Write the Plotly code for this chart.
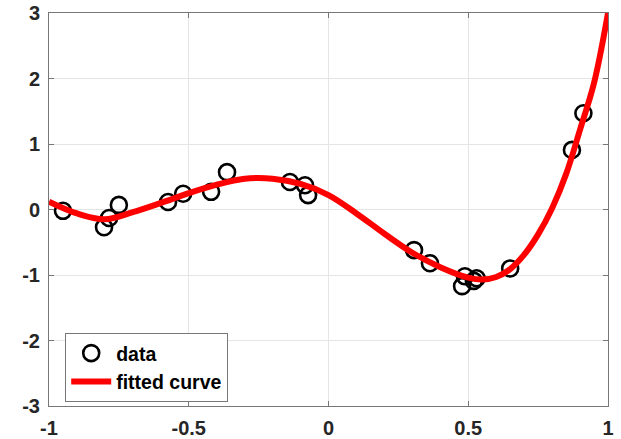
import plotly.graph_objects as go

# data points
data_x = [-0.95, -0.803, -0.785, -0.75, -0.574, -0.52, -0.42, -0.363, -0.138, -0.084, -0.073,
          0.306, 0.363, 0.478, 0.488, 0.52, 0.53, 0.65, 0.871, 0.912]
data_y = [-0.02, -0.27, -0.13, 0.07, 0.115, 0.24, 0.27, 0.57, 0.42, 0.37, 0.22,
          -0.62, -0.82, -1.17, -1.02, -1.09, -1.05, -0.90, 0.91, 1.47]

# fitted curve
curve_x = [-1.0, -0.9, -0.8, -0.7, -0.6, -0.5, -0.4, -0.3, -0.2, -0.1, 0.0, 0.1, 0.2, 0.3,
           0.4, 0.5, 0.55, 0.6, 0.65, 0.7, 0.75, 0.8, 0.85, 0.9, 0.95, 1.0]
curve_y = [0.12, -0.06, -0.15, -0.04, 0.10, 0.25, 0.38, 0.47, 0.47, 0.39, 0.22, -0.06, -0.37, -0.66,
           -0.88, -1.04, -1.07, -1.03, -0.91, -0.69, -0.38, 0.02, 0.54, 1.22, 1.93, 3.0]

x_ticks = [-1, -0.5, 0, 0.5, 1]
x_labels = ["-1", "-0.5", "0", "0.5", "1"]
y_ticks = [-3, -2, -1, 0, 1, 2, 3]
y_labels = ["-3", "-2", "-1", "0", "1", "2", "3"]

fig = go.Figure()
fig.add_trace(go.Scatter(
    x=data_x, y=data_y, mode="markers", name="data",
    marker=dict(symbol="circle-open", size=16, color="black", line=dict(width=2.6, color="black")),
))
fig.add_trace(go.Scatter(
    x=curve_x, y=curve_y, mode="lines", name="fitted curve",
    line=dict(color="#ff0000", width=6, shape="spline", smoothing=1.0),
))

font_ax = dict(family="Liberation Sans, Arial, sans-serif", size=20, color="#262626")
axis_common = dict(
    showgrid=True, gridcolor="#e5e5e5", gridwidth=1,
    showline=True, linecolor="#777777", linewidth=1, mirror="ticks",
    ticks="inside", ticklen=5, tickcolor="#777777",
    zeroline=False, tickfont=font_ax, automargin=False,
)
fig.update_xaxes(range=[-1, 1], tickvals=x_ticks, ticklabelstandoff=4,
                 ticktext=["<b>%s</b>" % t for t in x_labels], **axis_common)
fig.update_yaxes(range=[-3, 3], tickvals=y_ticks, ticklabelstandoff=4,
                 ticktext=["<b>%s</b>" % t for t in y_labels], **axis_common)

fig.update_layout(
    width=621, height=439,
    margin=dict(l=49, r=13, t=13, b=33),
    paper_bgcolor="white", plot_bgcolor="white",
    showlegend=True,
    legend=dict(
        x=0.029, y=0.186, xanchor="left", yanchor="top",
        bgcolor="white", bordercolor="#777777", borderwidth=1,
        font=dict(family="Liberation Sans, Arial, sans-serif", size=19.5, color="black", weight="bold"),
        tracegroupgap=0, itemwidth=40,
    ),
)

fig.write_html("out.html")
